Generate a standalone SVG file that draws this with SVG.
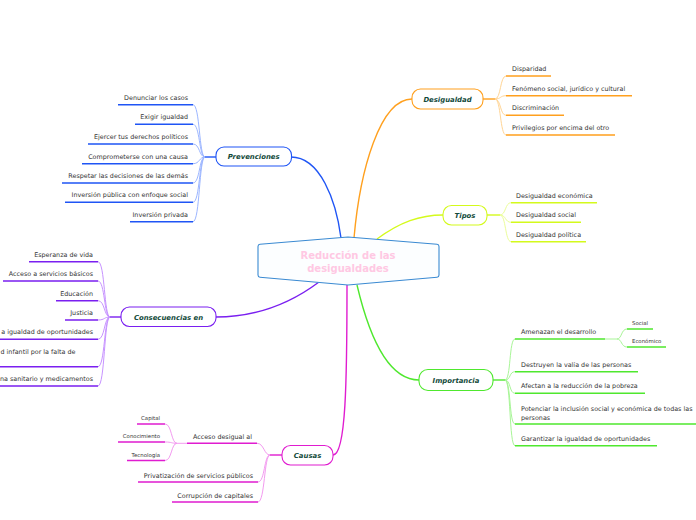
<svg xmlns="http://www.w3.org/2000/svg" width="696" height="520" viewBox="0 0 696 520">
<style>
text{font-family:"DejaVu Sans",Verdana,sans-serif;}
.leaf{font-size:6.4px;fill:#333;}
.sub{font-size:5.4px;fill:#333;}
.nt{font-size:6.9px;font-weight:bold;font-style:italic;fill:#124a3a;text-anchor:middle;}
.node{fill:#fff;stroke-width:1.1;}
.c{fill:none;stroke-width:1.4;}
.u{fill:none;stroke-width:1.5;}
.l{fill:none;stroke-width:1;}
.blue{stroke:#1f55f5;} .lblue{stroke:#9cb6ff;}
.pur{stroke:#7a1ff0;} .lpur{stroke:#c793ff;}
.mag{stroke:#e01cd0;} .lmag{stroke:#f39af0;}
.ora{stroke:#ffa01e;} .lora{stroke:#ffd595;}
.yel{stroke:#d4fa1c;} .lyel{stroke:#ebfd9a;}
.gre{stroke:#4fe82e;} .lgre{stroke:#a8f597;}
</style>
<g id="connectors">
<path class="c blue" d="M291,157 C320,157 336,200 341,238"/>
<path class="c ora" d="M354,238 C360,170 380,99 412,99"/>
<path class="c yel" d="M377,239 C400,222 420,215 443,215"/>
<path class="c pur" d="M216,317 C260,317 295,300 319,282"/>
<path class="c mag" d="M347,285 C347,380 346,455 333,455"/>
<path class="c gre" d="M357,285 C370,340 390,380 419,380"/>
<!-- prevenciones -->
<path class="c blue" d="M205,157 L216,157"/>
<path class="l lblue" d="M193,104.7 C200,104.7 199,157 205,157 M193,124.3 C200,124.3 199,157 205,157 M193,144 C200,144 199,157 205,157 M193,163.7 C200,163.7 199,157 205,157 M193,183 C200,183 199,157 205,157 M193,202.3 C200,202.3 199,157 205,157 M193,221.7 C200,221.7 199,157 205,157"/>
<!-- consecuencias -->
<path class="c pur" d="M110,317 L121,317"/>
<path class="l lpur" d="M98,261.7 C105,261.7 104,317 110,317 M98,281 C105,281 104,317 110,317 M98,300.7 C105,300.7 104,317 110,317 M98,320 C105,320 104,317 110,317 M98,339.3 C105,339.3 104,317 110,317 M98,366.7 C105,366.7 104,317 110,317 M98,386 C105,386 104,317 110,317"/>
<!-- causas -->
<path class="c mag" d="M270,455 L282,455"/>
<path class="l lmag" d="M257,443.3 C264,443.3 264,455 270,455 M258,482 C265,482 264,455 270,455 M258,502 C265,502 264,455 270,455"/>
<path class="l lmag" d="M177,443.3 L187,443.3 M165,424 C172,424 171,443.3 177,443.3 M165,442 C172,442 171,443.3 177,443.3 M165,460.5 C172,460.5 171,443.3 177,443.3"/>
<!-- desigualdad -->
<path class="c ora" d="M483,99 L495,99"/>
<path class="l lora" d="M495,99 C501,99 500,76 506,76 M495,99 C501,99 500,95.7 506,95.7 M495,99 C501,99 500,115.3 506,115.3 M495,99 C501,99 500,135 506,135"/>
<!-- tipos -->
<path class="c yel" d="M487,215 L500,215"/>
<path class="l lyel" d="M500,215 C506,215 505,202.7 511,202.7 M500,215 C506,215 505,222.3 511,222.3 M500,215 C506,215 505,241.7 511,241.7"/>
<!-- importancia -->
<path class="c gre" d="M493,380 L505,380"/>
<path class="l lgre" d="M505,380 C511,380 509,339 515,339 M505,380 C511,380 509,371.7 515,371.7 M505,380 C511,380 509,393.3 515,393.3 M505,380 C511,380 509,424 515,424 M505,380 C511,380 509,445.7 515,445.7"/>
<path class="l lgre" d="M605,339 L617,339 C622,339 621,329 627,329 M617,339 C622,339 621,347 627,347"/>
</g>
<g id="central">
<path d="M258,246.5 Q258,244.5 260,244.3 L348,237 L437,244.3 Q439,244.5 439,246.5 L439,275 Q439,277 437,277.2 L348,285 L260,277.2 Q258,277 258,275 Z" fill="#fcfeff" stroke="#3a8ad2" stroke-width="1.1"/>
<text x="348" y="259" text-anchor="middle" font-size="10px" font-weight="bold" fill="#ffc8e3">Reducción de las</text>
<text x="348" y="271.5" text-anchor="middle" font-size="10px" font-weight="bold" fill="#ffc8e3">desigualdades</text>
</g>
<g id="prevenciones">
<rect class="node blue" x="216" y="147" width="75.5" height="19" rx="8"/>
<text class="nt" x="253.7" y="159.3">Prevenciones</text>
</g>
<g id="prev-leaves" class="leaf" text-anchor="end">
<path class="u blue" d="M118,104.7 H193 M135,124.3 H193 M88,144 H193 M82,163.7 H193 M62,183 H193 M65,202.3 H193 M130,221.7 H193"/>
<text x="188" y="99.7">Denunciar los casos</text>
<text x="188" y="119.3">Exigir igualdad</text>
<text x="188" y="139">Ejercer tus derechos políticos</text>
<text x="188" y="158.7">Comprometerse con una causa</text>
<text x="188" y="178">Respetar las decisiones de las demás</text>
<text x="188" y="197.3">Inversión pública con enfoque social</text>
<text x="188" y="216.7">Inversión privada</text>
</g>
<g id="consecuencias">
<rect class="node pur" x="121" y="307" width="95" height="19.5" rx="8.5"/>
<text class="nt" x="168.5" y="319.5">Consecuencias en</text>
</g>
<g id="cons-leaves" class="leaf" text-anchor="end">
<path class="u pur" d="M29,261.7 H98 M3,281 H98 M56,300.7 H98 M65,320 H98 M0,339.3 H98 M0,366.7 H98 M0,386 H98"/>
<text x="93" y="256.7">Esperanza de vida</text>
<text x="93" y="276">Acceso a servicios básicos</text>
<text x="93" y="295.7">Educación</text>
<text x="93" y="315">Justicia</text>
<text x="93" y="334.3">a igualdad de oportunidades</text>
<text x="0.5" y="354" text-anchor="start">d infantil por la falta de</text>
<text x="93" y="381">na sanitario y medicamentos</text>
</g>
<g id="causas">
<rect class="node mag" x="282" y="445.5" width="51" height="19.5" rx="8.5"/>
<text class="nt" x="307.5" y="458">Causas</text>
</g>
<g id="causas-leaves" class="leaf" text-anchor="end">
<path class="u mag" d="M187,443.3 H257 M138,482 H258 M172,502 H258 M137,424 H165 M118,442 H165 M127,460.5 H165"/>
<text x="252" y="438.8">Acceso desigual al</text>
<text x="253" y="477.5">Privatización de servicios públicos</text>
<text x="253" y="497.5">Corrupción de capitales</text>
<text class="sub" x="160" y="420.3">Capital</text>
<text class="sub" x="160" y="438.3">Conocimiento</text>
<text class="sub" x="160" y="456.8">Tecnología</text>
</g>
<g id="desigualdad">
<rect class="node ora" x="412" y="89" width="71" height="20" rx="8.5"/>
<text class="nt" x="447.5" y="101.5">Desigualdad</text>
</g>
<g id="desig-leaves" class="leaf">
<path class="u ora" d="M506,76 H551 M506,95.7 H632 M506,115.3 H564 M506,135 H615"/>
<text x="512" y="71">Disparidad</text>
<text x="512" y="90.7">Fenómeno social, jurídico y cultural</text>
<text x="512" y="110.3">Discriminación</text>
<text x="512" y="130">Privilegios por encima del otro</text>
</g>
<g id="tipos">
<rect class="node yel" x="443" y="205.5" width="44" height="19.5" rx="8.5"/>
<text class="nt" x="465" y="218">Tipos</text>
</g>
<g id="tipos-leaves" class="leaf">
<path class="u yel" d="M511,202.7 H597 M511,222.3 H581 M511,241.7 H586"/>
<text x="516" y="197.7">Desigualdad económica</text>
<text x="516" y="217.3">Desigualdad social</text>
<text x="516" y="236.7">Desigualdad política</text>
</g>
<g id="importancia">
<rect class="node gre" x="419" y="369.5" width="74" height="21" rx="9"/>
<text class="nt" x="456" y="382.5">Importancia</text>
</g>
<g id="imp-leaves" class="leaf">
<path class="u gre" d="M515,339 H605 M515,371.7 H638 M515,393.3 H645 M515,424 H696 M515,445.7 H657 M627,329 H653 M627,347 H666"/>
<text x="521" y="334">Amenazan el desarrollo</text>
<text x="521" y="366.7">Destruyen la valía de las personas</text>
<text x="521" y="388.3">Afectan a la reducción de la pobreza</text>
<text x="521" y="410.5">Potenciar la inclusión social y económica de todas las</text>
<text x="521" y="419.5">personas</text>
<text x="521" y="440.7">Garantizar la igualdad de oportunidades</text>
<text class="sub" x="632" y="325">Social</text>
<text class="sub" x="632" y="343">Económico</text>
</g>
</svg>
